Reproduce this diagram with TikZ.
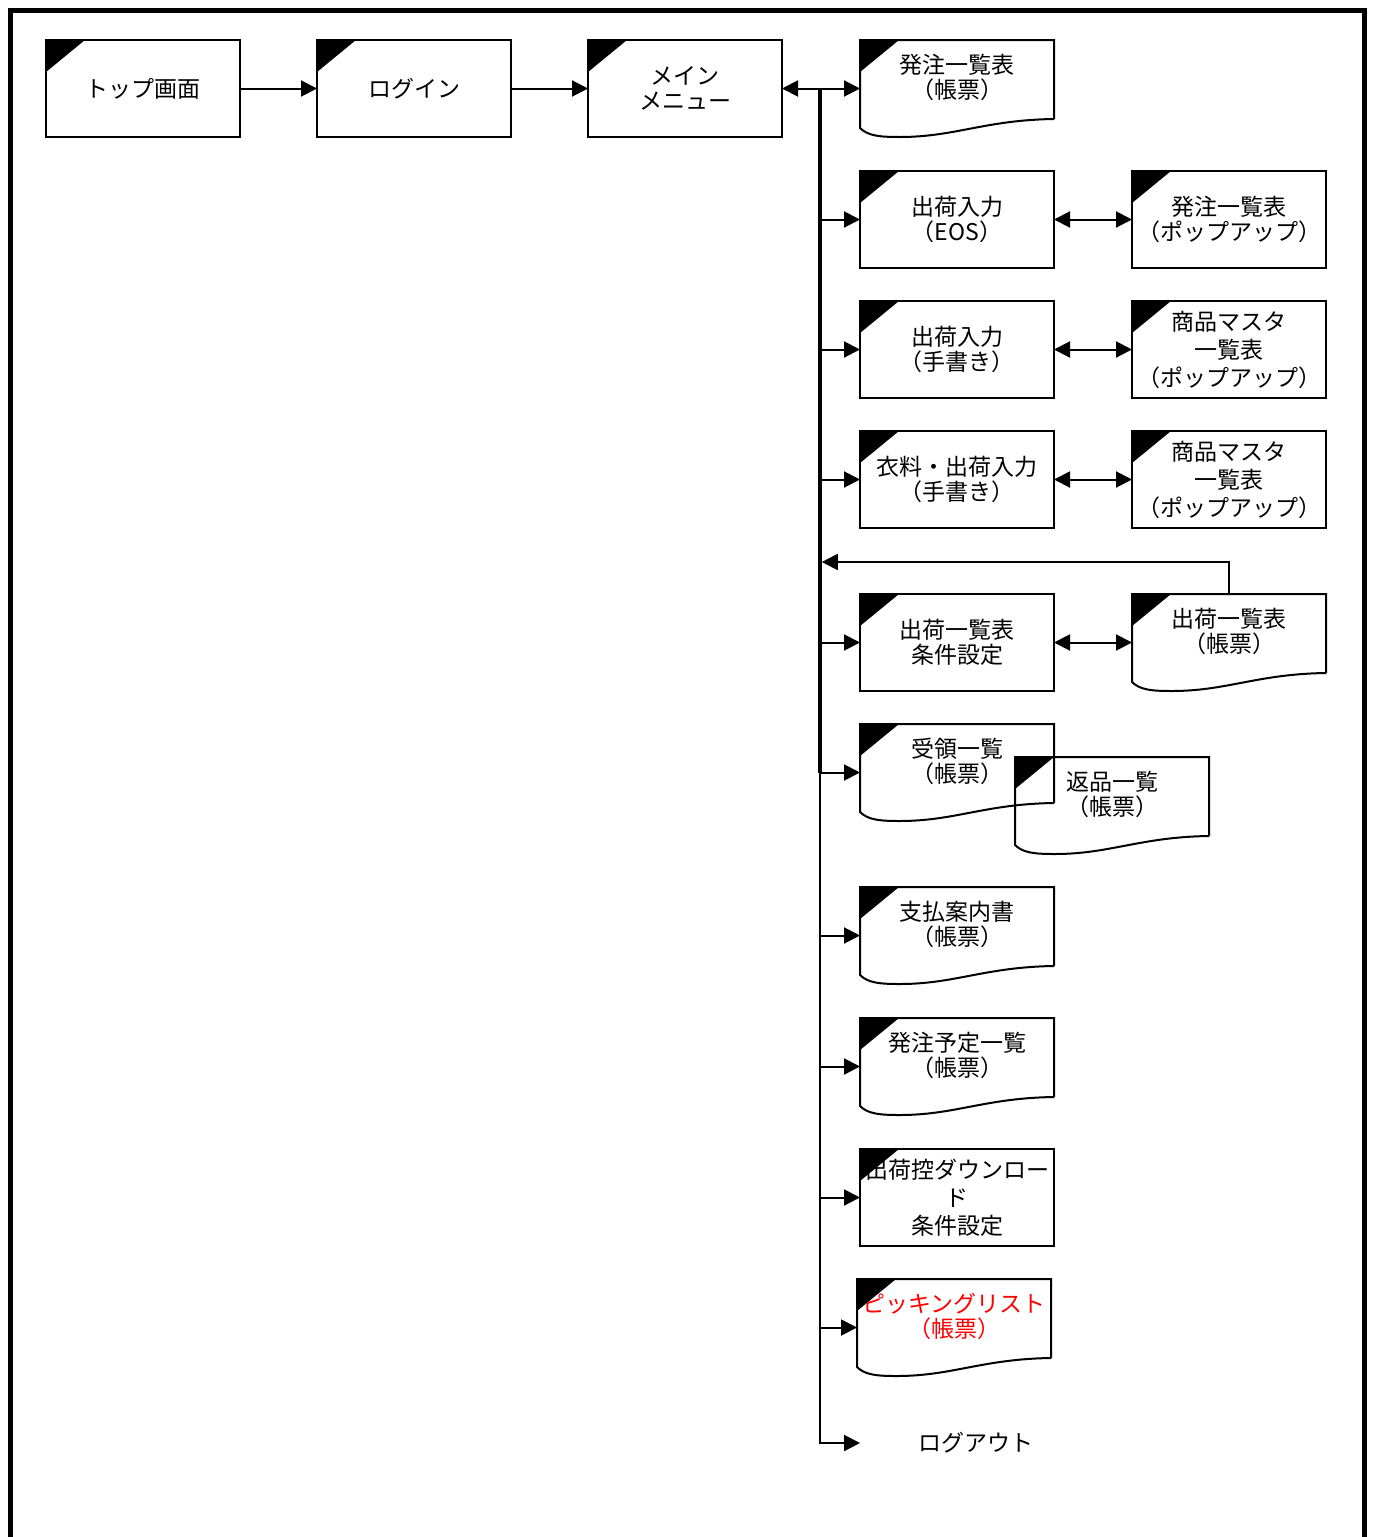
\documentclass[tikz,border=0pt]{standalone}
\usepackage{fontspec}
\newfontfamily\jpfont{Noto Sans CJK JP}
\usetikzlibrary{positioning, arrows.meta, calc}
\tikzset{
  scr/.style={rectangle, draw, line width=2pt, outer sep=0pt, inner sep=0pt,
    minimum width=194pt, minimum height=97pt, align=center,
    font=\jpfont\fontsize{23}{25}\selectfont},
  docbox/.style={scr, draw=none},
  doctxt/.style={yshift=11pt, align=center, inner sep=0pt, font=\jpfont\fontsize{23}{25}\selectfont},
  docline/.style={line width=2pt},
  flow/.style={-{Triangle[length=16pt, width=16pt]}, line width=2pt},
  biflow/.style={flow, {Triangle[length=16pt, width=16pt]}-{Triangle[length=16pt, width=16pt]}},
  trunk/.style={line width=2.2pt},
  outerframe/.style={line width=5pt},
}
\begin{document}
\begin{tikzpicture}[x=1pt, y=1pt]
  \useasboundingbox (0,0) rectangle (1374,-1537);
  \draw[outerframe] (10.5,-1537) -- (10.5,-10) -- (1364.5,-10) -- (1364.5,-1537);
  % top row
  \node[scr] (top) at (143,-88.5) {トップ画面};
  \node[scr, right=77pt of top] (login) {ログイン};
  \node[scr, right=77pt of login] (menu) {メイン\\メニュー};
  \node[docbox, right=78pt of menu, label={[doctxt]center:発注一覧表\\（帳票）}] (hl) {};
  % menu column
  \node[scr, below=34pt of hl] (eos) {出荷入力\\（EOS）};
  \node[scr, below=33pt of eos] (tegaki) {出荷入力\\（手書き）};
  \node[scr, below=33pt of tegaki] (iryo) {衣料・出荷入力\\（手書き）};
  \node[scr, below=66pt of iryo] (sjcond) {出荷一覧表\\条件設定};
  \node[docbox, below=33pt of sjcond, label={[doctxt]center:受領一覧\\（帳票）}] (juryo) {};
  \node[docbox, below=66pt of juryo, label={[doctxt]center:支払案内書\\（帳票）}] (shiharai) {};
  \node[docbox, below=34pt of shiharai, label={[doctxt]center:発注予定一覧\\（帳票）}] (yotei) {};
  \node[scr, below=34pt of yotei] (dlcond) {出荷控ダウンロー\\[3pt]ド\\[3pt]条件設定};
  \node[docbox, below=33pt of dlcond, xshift=-3pt, label={[doctxt, red]center:ピッキングリスト\\（帳票）}] (pick) {};
  \node[scr, draw=none, minimum width=232pt, anchor=west] (logout) at (860,-1443) {ログアウト};
  % popups
  \node[scr, right=78pt of eos] (pop1) {発注一覧表\\（ポップアップ）};
  \node[scr, right=78pt of tegaki] (pm1) {商品マスタ\\[3pt]一覧表\\[3pt]（ポップアップ）};
  \node[scr, right=78pt of iryo] (pm2) {商品マスタ\\[3pt]一覧表\\[3pt]（ポップアップ）};
  \node[docbox, right=78pt of sjcond, label={[doctxt]center:出荷一覧表\\（帳票）}] (sjlist) {};
  \node[docbox, right=-39pt of juryo, yshift=-33pt, label={[doctxt]center:返品一覧\\（帳票）}] (henpin) {};
  % document outlines
  \foreach \n in {hl, juryo, henpin, shiharai, yotei, pick, sjlist}
    \draw[docline] ([yshift=18pt]\n.south east) -- (\n.north east) -- (\n.north west) -- ([yshift=9pt]\n.south west)
      .. controls ([xshift=8pt, yshift=1pt]\n.south west) and ([xshift=20pt]\n.south west) .. ([xshift=40pt]\n.south west)
      .. controls ([xshift=95pt]\n.south west) and ([xshift=125pt, yshift=17pt]\n.south west) .. ([yshift=18pt]\n.south east);
  % corner marks
  \foreach \n in {top, login, menu, hl, eos, pop1, tegaki, pm1, iryo, pm2, sjcond, sjlist, juryo, henpin, shiharai, yotei, dlcond, pick}
    \fill (\n.north west) -- ([xshift=39pt]\n.north west) -- ([yshift=-32pt]\n.north west) -- cycle;
  % connectors
  \draw[flow] (top) -- (login);
  \draw[flow] (login) -- (menu);
  \draw[biflow] (menu) -- (hl);
  \coordinate (tr) at ([xshift=38pt]menu.east);
  \draw[trunk, line width=3.8pt] (tr) -- (tr |- juryo.west);
  \draw[trunk, -{Triangle[length=16pt, width=16pt]}] (tr) -- (tr |- logout.west) -- (logout.west);
  \foreach \n in {eos, tegaki, iryo, sjcond, juryo, shiharai, yotei, dlcond, pick}
    \draw[flow] (tr |- \n.west) -- (\n.west);
  \foreach \a/\b in {eos/pop1, tegaki/pm1, iryo/pm2, sjcond/sjlist}
    \draw[biflow] (\a) -- (\b);
  \coordinate (fb) at ([yshift=32pt]sjlist.north);
  \draw[flow, shorten >=1.8pt] (sjlist.north) -- (fb) -- (tr |- fb);
\end{tikzpicture}
\end{document}
